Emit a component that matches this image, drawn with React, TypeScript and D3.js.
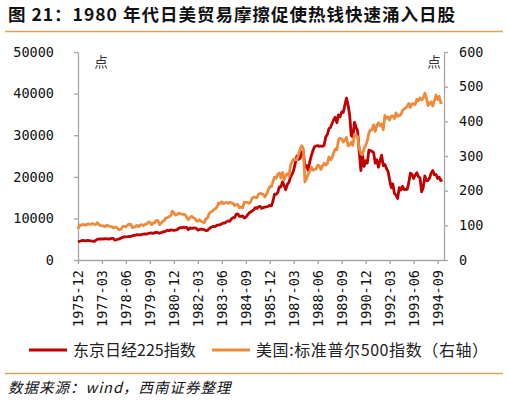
import { useEffect, useRef } from 'react'
import * as d3 from 'd3'

// monthly values, starting 1975-12
const startMonth = new Date(1975, 11, 1)

const nikkei = [
  4358,
  4500, 4620, 4700, 4650, 4600, 4700, 4660, 4580, 4550, 4470, 4680, 4990,
  5000, 5050, 5100, 5050, 5150, 5100, 5050, 5100, 5200, 5180, 4800, 4866,
  5010, 5100, 5300, 5450, 5600, 5580, 5600, 5650, 5700, 5800, 5900, 6002,
  6090, 6050, 6050, 6150, 6200, 6300, 6200, 6400, 6450, 6500, 6400, 6570,
  6650, 6600, 6400, 6600, 6700, 6800, 6950, 7150, 7050, 7250, 7200, 7116,
  7200, 7300, 7600, 7800, 7700, 7900, 7800, 7850, 7300, 7700, 7600, 7681,
  7700, 7600, 7200, 7300, 7400, 7350, 7300, 7050, 7100, 7500, 7800, 8017,
  8050, 8050, 8400, 8400, 8500, 8700, 8900, 8900, 9200, 9400, 9300, 9894,
  10200, 10200, 11000, 11100, 10500, 10500, 10600, 10100, 10300, 10800, 11300, 11543,
  11800, 12100, 12600, 12400, 12800, 12900, 12400, 12600, 12700, 12800, 12900, 13113,
  13000, 14200, 15800, 15800, 16200, 17600, 17600, 18800, 17900, 16900, 18200, 18701,
  20000, 20700, 21600, 23300, 25000, 24200, 24500, 26000, 26000, 22300, 22700, 21564,
  23600, 25100, 26300, 27200, 27400, 27500, 27300, 27400, 27300, 27600, 29600, 30159,
  31600, 31900, 32800, 33700, 34300, 33000, 34900, 34400, 35600, 35500, 37300, 38916,
  37200, 34600, 29900, 29600, 33100, 31900, 31000, 25900, 21500, 25200, 22500, 23849,
  23300, 26400, 26300, 26100, 25800, 23300, 24100, 22300, 23900, 25200, 22700, 22984,
  22000, 21300, 19300, 17400, 18300, 16000, 15600, 14800, 17400, 16800, 17700, 16925,
  17000, 17000, 18600, 20900, 20600, 19600, 20400, 21000, 20100, 19700, 16400, 17417,
  20200, 19100, 19100, 19700, 20900, 21500, 20500, 20600, 19600, 19900, 19100, 19300,
]

const sp500 = [
  90.2,
  100.9, 99.7, 102.8, 101.6, 100.2, 104.3, 103.4, 102.9, 105.2, 102.9, 102.1, 107.5,
  102.0, 99.8, 98.4, 98.4, 96.1, 100.5, 98.9, 96.8, 96.5, 92.3, 94.8, 95.1,
  89.3, 87.0, 89.2, 97.0, 97.2, 95.5, 100.7, 103.3, 102.5, 93.2, 94.7, 96.1,
  99.9, 96.3, 101.6, 101.8, 99.1, 102.9, 103.8, 109.3, 109.3, 101.8, 106.2, 107.9,
  114.2, 113.7, 102.1, 106.3, 111.2, 114.2, 121.7, 122.4, 125.5, 127.5, 140.5, 135.8,
  129.6, 131.3, 136.0, 132.8, 132.6, 131.2, 130.9, 122.8, 116.2, 121.9, 126.4, 122.6,
  120.4, 113.1, 112.0, 116.4, 111.9, 109.6, 107.1, 119.5, 120.4, 133.7, 138.5, 140.6,
  145.3, 148.1, 153.0, 164.4, 162.4, 168.1, 162.6, 164.4, 166.1, 163.6, 166.4, 164.9,
  163.4, 157.1, 159.2, 160.1, 150.6, 153.2, 150.7, 166.7, 166.1, 166.1, 163.6, 167.2,
  179.6, 181.2, 180.7, 179.8, 189.6, 191.9, 190.9, 188.6, 182.1, 189.8, 202.2, 211.3,
  211.8, 226.9, 238.9, 235.5, 247.4, 250.8, 236.1, 252.9, 231.3, 244.0, 249.2, 242.2,
  274.1, 284.2, 291.7, 288.4, 290.1, 304.0, 318.7, 329.8, 321.8, 225.0, 235.0, 247.1,
  257.1, 267.8, 258.9, 261.3, 262.2, 273.5, 272.0, 261.5, 271.9, 279.0, 273.7, 277.7,
  297.5, 288.9, 294.9, 309.6, 320.5, 318.0, 346.1, 351.5, 349.2, 340.4, 346.0, 353.4,
  329.1, 331.9, 339.9, 330.8, 361.2, 358.0, 356.2, 322.6, 306.1, 304.0, 322.2, 330.2,
  343.9, 367.1, 375.2, 375.3, 389.8, 371.2, 387.8, 395.4, 387.9, 392.5, 375.2, 417.1,
  408.8, 412.7, 403.7, 415.0, 415.4, 408.1, 424.2, 414.0, 417.8, 418.7, 431.4, 435.7,
  438.8, 443.4, 451.7, 440.2, 450.2, 450.5, 448.1, 463.6, 458.9, 467.8, 461.8, 466.5,
  481.6, 467.1, 445.8, 450.9, 456.5, 444.3, 458.3, 475.5, 462.7, 472.4, 453.7, 455.0,
]

const xTickLabels = [
  '1975-12', '1977-03', '1978-06', '1979-09', '1980-12', '1982-03', '1983-06', '1984-09',
  '1985-12', '1987-03', '1988-06', '1989-09', '1990-12', '1992-03', '1993-06', '1994-09',
]
const leftTicks = [0, 10000, 20000, 30000, 40000, 50000]
const rightTicks = [0, 100, 200, 300, 400, 500, 600]

const title = '图 21：1980 年代日美贸易摩擦促使热钱快速涌入日股'
const seriesNames = ['东京日经225指数', '美国:标准普尔500指数（右轴）']
const source = '数据来源：wind，西南证券整理'

const RED = '#c00000'
const ORANGE = '#ef8a3a'
const AXIS = '#a6a6a6'
const RULE = '#d9a45c'
const MONO = '"DejaVu Sans Mono", monospace'
const CJK = '"Noto Sans CJK SC", sans-serif'

export default function App() {
  const svgRef = useRef<SVGSVGElement>(null)

  useEffect(() => {
    const svg = svgRef.current
    if (!svg) return
    const root = d3.select(svg)
    root.selectAll('*').remove()

    const left = 78, right = 444, top = 52, bottom = 260
    const monthDate = (i: number) => d3.timeMonth.offset(startMonth, i)
    const parseLabel = (s: string) => new Date(+s.slice(0, 4), +s.slice(5) - 1, 1)

    const x = d3.scaleTime()
      .domain([startMonth, new Date(1995, 0, 1)])
      .range([left, right])
    const yL = d3.scaleLinear().domain([0, 50000]).range([bottom, top])
    const yR = d3.scaleLinear().domain([0, 600]).range([bottom, top])

    // title + rules
    root.append('text')
      .attr('x', 8).attr('y', 21)
      .attr('font-family', CJK).attr('font-weight', 700).attr('font-size', 17.5)
      .attr('letter-spacing', 1).attr('fill', '#111')
      .text(title)
    root.append('line').attr('x1', 5).attr('x2', 503).attr('y1', 31.5).attr('y2', 31.5)
      .attr('stroke', RULE).attr('stroke-width', 1.5)
    root.append('line').attr('x1', 5).attr('x2', 503).attr('y1', 373.5).attr('y2', 373.5)
      .attr('stroke', RULE).attr('stroke-width', 1.5)

    const styleAxis = (g: d3.Selection<SVGGElement, unknown, null, undefined>) => {
      g.select('.domain').attr('stroke', AXIS).attr('stroke-width', 1.3)
      g.selectAll('.tick line').attr('stroke', AXIS).attr('stroke-width', 1.3)
      g.selectAll('.tick text').attr('fill', '#111')
      g.attr('font-family', MONO).attr('font-size', 13.5)
    }

    const gL = root.append('g').attr('transform', `translate(${left},0)`)
      .call(d3.axisLeft(yL).tickValues(leftTicks).tickSize(4).tickSizeOuter(0).tickPadding(20).tickFormat(d => `${d}`))
    styleAxis(gL)

    const gR = root.append('g').attr('transform', `translate(${right},0)`)
      .call(d3.axisRight(yR).tickValues(rightTicks).tickSize(4).tickSizeOuter(0).tickPadding(11).tickFormat(d => `${d}`))
    styleAxis(gR)

    const gX = root.append('g').attr('transform', `translate(0,${bottom})`)
      .call(d3.axisBottom(x).tickValues(xTickLabels.map(parseLabel)).tickSize(4).tickSizeOuter(0)
        .tickFormat((_, i) => xTickLabels[i]))
    styleAxis(gX)
    gX.selectAll('.tick text')
      .attr('transform', 'rotate(-90)')
      .attr('text-anchor', 'end')
      .attr('x', -10).attr('y', 0).attr('dy', '0.35em')

    // unit labels
    ;[101, 434].forEach(ux => {
      root.append('text').attr('x', ux).attr('y', 67).attr('text-anchor', 'middle')
        .attr('font-family', CJK).attr('font-size', 13.5).attr('fill', '#333').text('点')
    })

    // lines
    const lineL = d3.line<number>().x((_, i) => x(monthDate(i))).y(d => yL(d))
    const lineR = d3.line<number>().x((_, i) => x(monthDate(i))).y(d => yR(d))
    root.append('path').datum(nikkei).attr('fill', 'none').attr('stroke', RED)
      .attr('stroke-width', 2.8).attr('stroke-linejoin', 'round').attr('d', lineL)
    root.append('path').datum(sp500).attr('fill', 'none').attr('stroke', ORANGE)
      .attr('stroke-width', 2.8).attr('stroke-linejoin', 'round').attr('d', lineR)

    // legend
    const legend = [
      { name: seriesNames[0], color: RED, x: 29, spacing: 0 },
      { name: seriesNames[1], color: ORANGE, x: 212, spacing: 0.6 },
    ]
    legend.forEach(l => {
      root.append('line').attr('x1', l.x).attr('x2', l.x + 38).attr('y1', 350).attr('y2', 350)
        .attr('stroke', l.color).attr('stroke-width', 3)
      root.append('text').attr('x', l.x + 44).attr('y', 356)
        .attr('font-family', CJK).attr('font-size', 16).attr('letter-spacing', l.spacing)
        .attr('fill', '#222').text(l.name)
    })

    // source
    root.append('text').attr('x', 8).attr('y', 393)
      .attr('font-family', CJK).attr('font-size', 14.5).attr('font-style', 'italic')
      .attr('letter-spacing', 1).attr('fill', '#111')
      .text(source)
  }, [])

  return (
    <svg ref={svgRef} width={508} height={405}
      style={{ position: 'absolute', left: 0, top: 0, background: '#fff' }} />
  )
}
